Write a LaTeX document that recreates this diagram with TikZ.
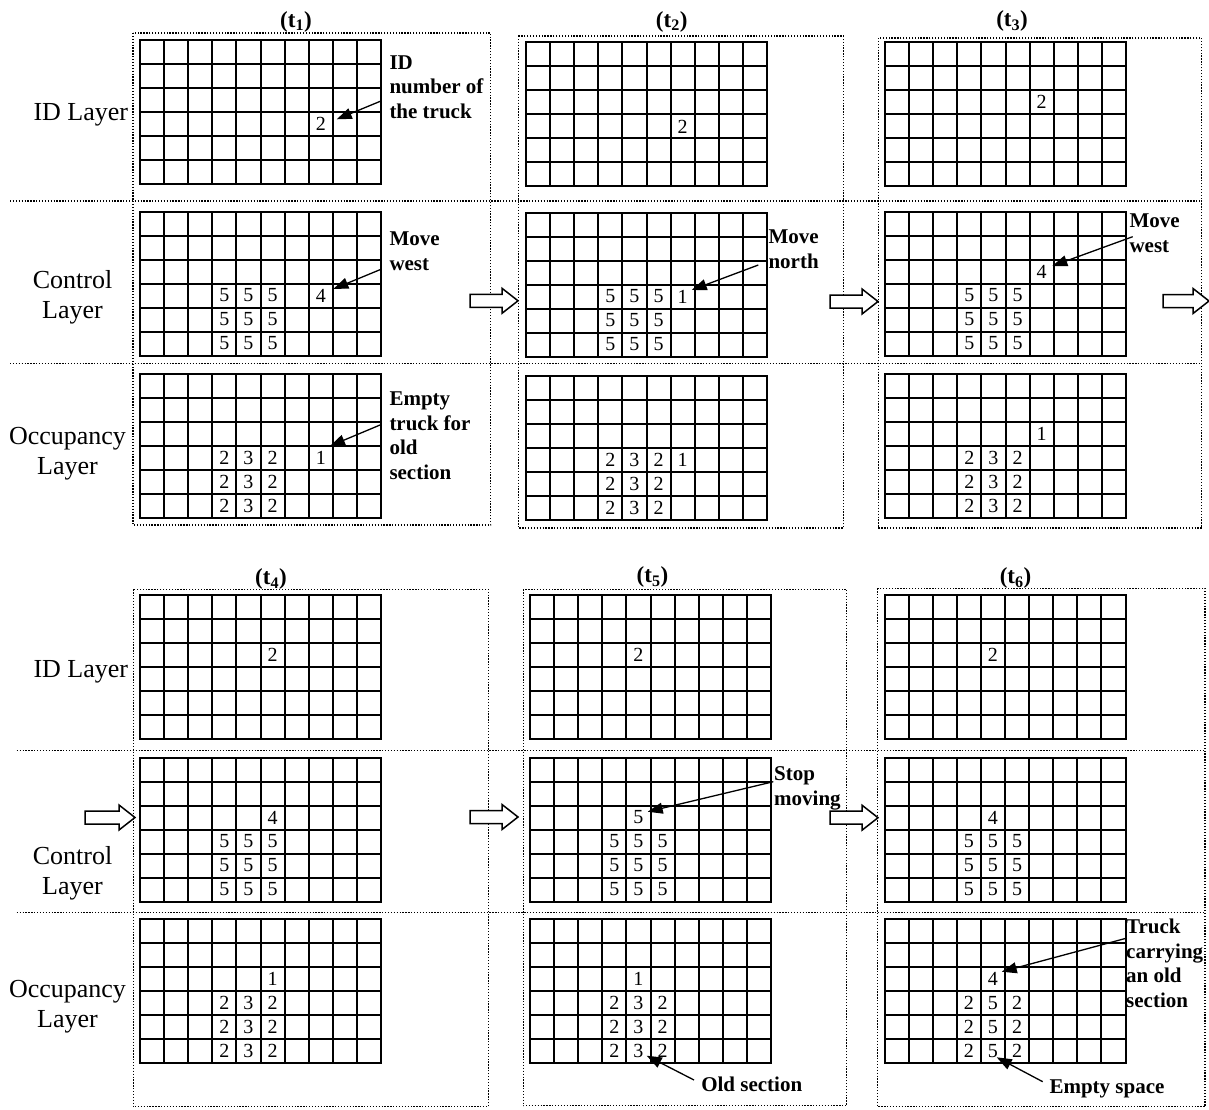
\documentclass[tikz,border=0pt]{standalone}
\usepackage{fontspec}
\setmainfont{Liberation Serif}
\usetikzlibrary{arrows.meta}
\tikzset{
  gline/.style={line width=2pt},
  sepline/.style={line width=1.4pt, dash pattern=on 1.3pt off 1.6pt},
  digit/.style={inner sep=0pt, font=\fontsize{20}{24}\selectfont},
  layerlab/.style={align=center, inner sep=0pt, font=\fontsize{26}{30}\selectfont},
  note/.style={align=left, inner sep=0pt, font=\bfseries\fontsize{21}{24.6}\selectfont},
  ttl/.style={inner sep=0pt, font=\bfseries\fontsize{23}{26}\selectfont},
  pointer/.style={line width=1.3pt, -{Triangle[length=15pt,width=11pt]}},
  blockarr/.style={line width=1.5pt, fill=white, line join=miter},
}
\newcommand\cagrid[3]{%
  \coordinate (#1) at (#2,#3);
  \foreach \i in {1,...,9} \draw[gline] ({#2+\i*24.1},#3) -- ({#2+\i*24.1},{#3+144});
  \foreach \j in {1,...,5} \draw[gline] (#2,{#3+\j*24}) -- ({#2+241},{#3+\j*24});
  \draw[gline] (#2,#3) rectangle ({#2+241},{#3+144});
}
\newcommand\cadigits[4]{%
  \foreach \c/\r/\d in #4 \node[digit] (#1-\c-\r) at ({#2+\c*24.1+12.05},{#3+\r*24+12}) {\d};
}
\newcommand\blockarrow[4]{%
  \coordinate (#1) at (#2,#3);
  \draw[blockarr] (#2,{#3-6.5}) -- ({#2+#4-16},{#3-6.5}) -- ({#2+#4-16},{#3-12.5}) -- ({#2+#4},#3)
    -- ({#2+#4-16},{#3+12.5}) -- ({#2+#4-16},{#3+6.5}) -- (#2,{#3+6.5}) -- cycle;
}
\def\fives{3/3/5,4/3/5,5/3/5,3/4/5,4/4/5,5/4/5,3/5/5,4/5/5,5/5/5}
\def\occs{3/3/2,4/3/3,5/3/2,3/4/2,4/4/3,5/4/2,3/5/2,4/5/3,5/5/2}
\begin{document}
\begin{tikzpicture}[x=1pt,y=-1pt]
\useasboundingbox[fill=white] (0,0) rectangle (1209,1110);

% ---------- separators and panel frames ----------
\draw[sepline] (10,201) -- (1201.7,201);
\draw[sepline] (10,363.3) -- (1201.7,363.3);
\draw[sepline] (16.7,750.7) -- (1205,750.7);
\draw[sepline] (16.7,912.7) -- (1205,912.7);
\draw[sepline] (133,33) rectangle (490.7,525);
\draw[sepline] (518.3,36) rectangle (843.3,528);
\draw[sepline] (878.3,38) rectangle (1201.7,528);
\draw[sepline] (133.3,589.3) rectangle (488.3,1106.7);
\draw[sepline] (523.3,589.3) rectangle (846.7,1105.7);
\draw[sepline] (877.7,588.3) rectangle (1205,1106.7);

% ---------- titles ----------
\node[ttl] (T1) at (296,21.7) {(t\textsubscript{1})};
\node[ttl] (T2) at (671.7,21.7) {(t\textsubscript{2})};
\node[ttl] (T3) at (1012,21) {(t\textsubscript{3})};
\node[ttl] (T4) at (271,579) {(t\textsubscript{4})};
\node[ttl] (T5) at (652.5,577) {(t\textsubscript{5})};
\node[ttl] (T6) at (1015.5,578.3) {(t\textsubscript{6})};

% ---------- layer labels (base = last line) ----------
\node[layerlab, anchor=base] (L1) at (80.8,120.7) {ID Layer};
\node[layerlab, anchor=base] (L2) at (72.5,318.3) {Control\\Layer};
\node[layerlab, anchor=base] (L3) at (67.5,474) {Occupancy\\Layer};
\node[layerlab, anchor=base] (L4) at (80.8,677.3) {ID Layer};
\node[layerlab, anchor=base] (L5) at (72.5,894) {Control\\Layer};
\node[layerlab, anchor=base] (L6) at (67.5,1027.5) {Occupancy\\Layer};

% ---------- grids: t1 ----------
\cagrid{g1a}{140}{40}    \cadigits{g1a}{140}{40}{{7/3/2}}
\cagrid{g1b}{140}{211.5} \cadigits{g1b}{140}{211.5}{\fives} \cadigits{g1b}{140}{211.5}{{7/3/4}}
\cagrid{g1c}{140}{374}   \cadigits{g1c}{140}{374}{\occs}    \cadigits{g1c}{140}{374}{{7/3/1}}
% t2
\cagrid{g2a}{526}{42.5}  \cadigits{g2a}{526}{42.5}{{6/3/2}}
\cagrid{g2b}{526}{212.5} \cadigits{g2b}{526}{212.5}{\fives} \cadigits{g2b}{526}{212.5}{{6/3/1}}
\cagrid{g2c}{526}{376}   \cadigits{g2c}{526}{376}{\occs}    \cadigits{g2c}{526}{376}{{6/3/1}}
% t3
\cagrid{g3a}{885}{42}    \cadigits{g3a}{885}{42}{{6/2/2}}
\cagrid{g3b}{885}{211.5} \cadigits{g3b}{885}{211.5}{\fives} \cadigits{g3b}{885}{211.5}{{6/2/4}}
\cagrid{g3c}{885}{374}   \cadigits{g3c}{885}{374}{\occs}    \cadigits{g3c}{885}{374}{{6/2/1}}
% t4
\cagrid{g4a}{140}{595}   \cadigits{g4a}{140}{595}{{5/2/2}}
\cagrid{g4b}{140}{757.5} \cadigits{g4b}{140}{757.5}{\fives} \cadigits{g4b}{140}{757.5}{{5/2/4}}
\cagrid{g4c}{140}{919}   \cadigits{g4c}{140}{919}{\occs}    \cadigits{g4c}{140}{919}{{5/2/1}}
% t5
\cagrid{g5a}{530}{595}   \cadigits{g5a}{530}{595}{{4/2/2}}
\cagrid{g5b}{530}{757.5} \cadigits{g5b}{530}{757.5}{\fives} \cadigits{g5b}{530}{757.5}{{4/2/5}}
\cagrid{g5c}{530}{919}   \cadigits{g5c}{530}{919}{\occs}    \cadigits{g5c}{530}{919}{{4/2/1}}
% t6
\cagrid{g6a}{884.5}{595}   \cadigits{g6a}{884.5}{595}{{4/2/2}}
\cagrid{g6b}{884.5}{757.5} \cadigits{g6b}{884.5}{757.5}{\fives} \cadigits{g6b}{884.5}{757.5}{{4/2/4}}
\cagrid{g6c}{884.5}{919}   \cadigits{g6c}{884.5}{919}{{3/3/2,4/3/5,5/3/2,3/4/2,4/4/5,5/4/2,3/5/2,4/5/5,5/5/2,4/2/4}}

% ---------- block arrows between time steps ----------
\blockarrow{ba1}{470}{300.8}{48}
\blockarrow{ba2}{830}{301.5}{48}
\blockarrow{ba3}{1163}{301}{46}
\blockarrow{ba4}{85}{817.5}{50}
\blockarrow{ba5}{470}{817}{48}
\blockarrow{ba6}{830}{817.7}{48}

% ---------- annotations (base = last line) ----------
\node[note, anchor=base west] (N1) at (389.3,118.3) {ID\\number of\\the truck};
\node[note, anchor=base west] (N2) at (389.3,270) {Move\\west};
\node[note, anchor=base west] (N3) at (389.3,479.3) {Empty\\truck for\\old\\section};
\node[note, anchor=base west] (N4) at (768.3,268.3) {Move\\north};
\node[note, anchor=base west] (N5) at (1129.3,252.3) {Move\\west};
\node[note, anchor=base west] (N6) at (774,805) {Stop\\moving};
\node[note, anchor=base] (N7) at (751.7,1091.7) {Old section};
\node[note, anchor=base west] (N8) at (1126,1007.3) {Truck\\carrying\\an old\\section};
\node[note, anchor=base] (N9) at (1107,1093.3) {Empty space};

\coordinate (p1s) at (381.7,100.7);  \coordinate (p1e) at (336.7,119.3);
\coordinate (p2s) at (381.7,269);    \coordinate (p2e) at (333.3,289);
\coordinate (p3s) at (381.7,424.3);  \coordinate (p3e) at (330,446);
\coordinate (p4s) at (758.3,265);    \coordinate (p4e) at (691.7,290);
\coordinate (p5s) at (1132.7,236.7); \coordinate (p5e) at (1052.3,266);
\coordinate (p6s) at (773.3,781.7);  \coordinate (p6e) at (647.7,811.7);
\coordinate (p7s) at (694,1080);     \coordinate (p7e) at (646.7,1055.7);
\coordinate (p8s) at (1126,938.3);   \coordinate (p8e) at (1001.7,971.7);
\coordinate (p9s) at (1042.7,1081.7);\coordinate (p9e) at (996.7,1057.3);
\foreach \k in {1,...,9} \draw[pointer] (p\k s) -- (p\k e);
\end{tikzpicture}
\end{document}
